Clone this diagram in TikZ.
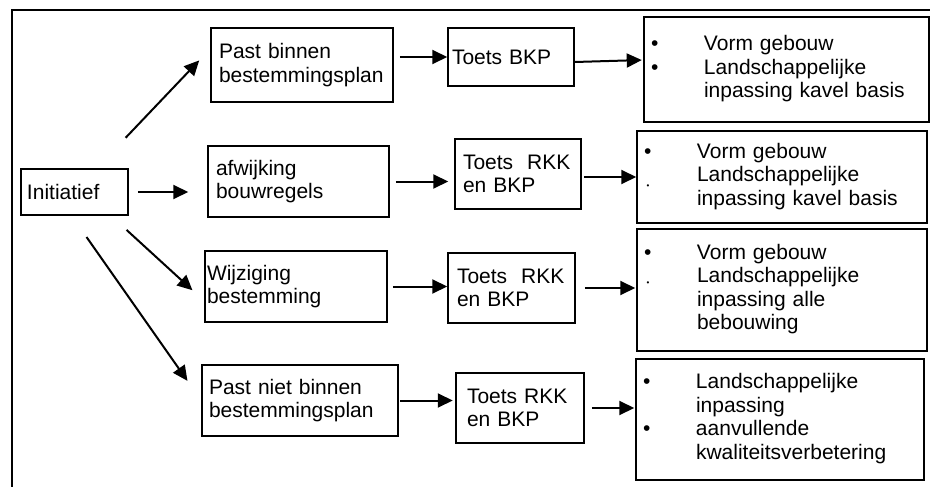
\documentclass[tikz,border=0pt]{standalone}
\usepackage{fontspec}
\setmainfont{Liberation Sans}
\usetikzlibrary{arrows.meta}
\setlength{\parindent}{0pt}
\hyphenpenalty=10000
\newcommand{\tinydot}[1]{\hspace*{2.5pt}\raisebox{#1}{\fontsize{8}{8}\selectfont\textbullet}}

\begin{document}
\begin{tikzpicture}[
  x=1pt, y=-1pt,
  >={Triangle[length=15pt, width=14pt]},
  stage/.style={draw, line width=1.5pt, align=left, inner ysep=0pt,
    font=\fontsize{21}{23.5}\selectfont},
  result/.style={stage, inner xsep=0pt},
  flow/.style={->, line width=2pt},
]

\useasboundingbox (0,0) rectangle (930,487);

% Frame (open to the right and bottom)
\draw[line width=1.8pt] (12,487) -- (12,10) -- (930,10);

% =============================================
% Start
% =============================================

\node[stage, minimum width=107pt, minimum height=46pt, inner xsep=6pt,
  text width=95pt] (init) at (74.5,192) {Initiatief};

% =============================================
% Routes
% =============================================

\node[stage, minimum width=182pt, minimum height=74pt, inner xsep=8pt,
  text width=166pt] (past) at (302,65)
  {Past binnen\\bestemmingsplan};

\node[stage, minimum width=181pt, minimum height=71pt, inner xsep=8pt,
  text width=165pt] (afw) at (298.5,181.5)
  {afwijking\\bouwregels};

\node[stage, minimum width=182pt, minimum height=71pt, inner xsep=2pt,
  text width=178pt] (wijz) at (296,286.5)
  {Wijziging\\bestemming};

\node[stage, minimum width=196pt, minimum height=71pt, inner xsep=7pt,
  text width=182pt] (pastniet) at (300,400.5)
  {Past niet binnen\\bestemmingsplan};

% =============================================
% Toetsing
% =============================================

\node[stage, minimum width=126pt, minimum height=58pt, inner xsep=4pt,
  text width=118pt] (bkp) at (511,57) {Toets BKP};

\node[stage, minimum width=126pt, minimum height=70pt, inner xsep=8pt,
  text width=110pt] (rkka) at (518,174) {Toets~~RKK\\en BKP};

\node[stage, minimum width=127pt, minimum height=70pt, inner xsep=9pt,
  text width=109pt] (rkkb) at (511.5,288) {Toets~~RKK\\en BKP};

\node[stage, minimum width=128pt, minimum height=70pt, inner xsep=11pt,
  text width=106pt] (rkkc) at (520,408) {Toets RKK\\en BKP};

% =============================================
% Results
% =============================================

\node[result, minimum height=105pt, text width=285pt] (resa) at (786.5,69.5)
  {\begin{tabular}{@{\hspace{7pt}}p{53pt}@{}l@{}}
   \textbullet & Vorm gebouw\\
   \textbullet & Landschappelijke\\
               & inpassing kavel basis
   \end{tabular}};

\node[result, minimum height=92pt, text width=290pt] (resb) at (782,177)
  {\begin{tabular}{@{\hspace{7pt}}p{53pt}@{}l@{}}
   \textbullet    & Vorm gebouw\\
   \tinydot{-7pt} & Landschappelijke\\
                  & inpassing kavel basis
   \end{tabular}};

\node[result, minimum height=122pt, text width=290pt] (resc) at (782,290)
  {\begin{tabular}{@{\hspace{7pt}}p{53pt}@{}l@{}}
   \textbullet    & Vorm gebouw\\
   \tinydot{-3pt} & Landschappelijke\\
                  & inpassing alle\\
                  & bebouwing
   \end{tabular}};

\node[result, minimum height=121pt, text width=288pt] (resd) at (780,419.5)
  {\begin{tabular}{@{\hspace{7pt}}p{53pt}@{}l@{}}
   \textbullet & Landschappelijke\\
               & inpassing\\
   \textbullet & aanvullende\\
               & kwaliteitsverbetering
   \end{tabular}};

% =============================================
% Arrows
% =============================================

% Initiatief to the routes
\draw[flow, shorten <=42pt, shorten >=16pt] (init.47) -- (past.170);
\draw[flow, shorten <=9pt, shorten >=19pt] (init.east) -- (init.east -| afw.west);
\draw[flow, shorten <=21pt, shorten >=16pt] (init.-33) -- (wijz.-171);
\draw[flow, shorten <=26pt, shorten >=24pt] (init.-97) -- (pastniet.west);

% Routes to toetsing
\draw[flow, shorten <=6pt] (past.east |- bkp.west) -- (bkp.west);
\draw[flow, shorten <=6pt, shorten >=6pt] (afw.east) -- (afw.east -| rkka.west);
\draw[flow, shorten <=5pt] (wijz.east) -- (wijz.east -| rkkb.west);
\draw[flow, shorten <=1.5pt, shorten >=2.5pt] (pastniet.east) -- (pastniet.east -| rkkc.west);

% Toetsing to results
\draw[flow, shorten >=1.5pt] ([yshift=-5pt]bkp.east) -- ([yshift=9.5pt]resa.west);
\draw[flow, shorten <=2.5pt] (rkka.east |- resb.west) -- (resb.west);
\draw[flow, shorten <=9pt, shorten >=1pt] (rkkb.east) -- (rkkb.east -| resc.west);
\draw[flow, shorten <=7pt, shorten >=1pt] (rkkc.east) -- (rkkc.east -| resd.west);

\end{tikzpicture}
\end{document}
